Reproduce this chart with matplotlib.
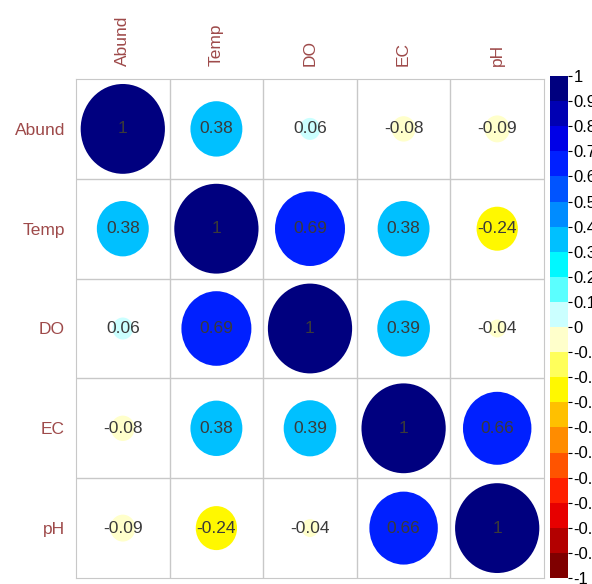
import numpy as np
import matplotlib
matplotlib.use('Agg')
import matplotlib.pyplot as plt
from matplotlib.colors import LinearSegmentedColormap, ListedColormap, BoundaryNorm
from matplotlib.patches import Ellipse
from matplotlib.cm import ScalarMappable

plt.rcParams['font.family'] = ['Liberation Sans', 'DejaVu Sans']

# variables and correlation values
variables = ['Abund', 'Temp', 'DO', 'EC', 'pH']
abund = [1.00, 0.38, 0.06, -0.08, -0.09]
temp = [0.38, 1.00, 0.69, 0.38, -0.24]
do = [0.06, 0.69, 1.00, 0.39, -0.04]
ec = [-0.08, 0.38, 0.39, 1.00, 0.66]
ph = [-0.09, -0.24, -0.04, 0.66, 1.00]
corr = np.array([abund, temp, do, ec, ph])

# corrplot-like palette, 20 bins
anchors = ["#7F0000", "red", "#FF7F00", "yellow", "white",
           "cyan", "#007FFF", "blue", "#00007F"]
ramp = LinearSegmentedColormap.from_list('ramp', anchors)
ncol = 20
cmap = ListedColormap([ramp(i / (ncol - 1)) for i in range(ncol)])
bounds = np.linspace(-1, 1, ncol + 1)
norm = BoundaryNorm(bounds, ncol)

fig = plt.figure(figsize=(5.92, 5.84), dpi=100)
ax = fig.add_axes([76 / 592, 6 / 584, 468 / 592, 499 / 584])

n = len(variables)
lab_col = '#9E4A4A'
grid_col = '#C8C8C8'

for i in range(n):
    for j in range(n):
        r = corr[i, j]
        d = 0.9 * np.sqrt(abs(r))
        ax.add_patch(Ellipse((j + 0.5, i + 0.5), d, d, facecolor=cmap(norm(r)),
                             edgecolor='none'))
        txt = '1' if r == 1 else f'{r:.2f}'
        ax.text(j + 0.5, i + 0.5, txt, ha='center', va='center',
                fontsize=12.5, color='#3a3a3a')

for k in range(1, n):
    ax.axhline(k, color=grid_col, lw=1)
    ax.axvline(k, color=grid_col, lw=1)
for s in ax.spines.values():
    s.set_color(grid_col)

ax.set_xlim(0, n)
ax.set_ylim(n, 0)
ax.set_xticks(np.arange(n) + 0.5)
ax.set_yticks(np.arange(n) + 0.5)
ax.set_xticklabels(variables, rotation=90, color=lab_col, fontsize=12.5)
ax.set_yticklabels(variables, color=lab_col, fontsize=12.5)
ax.xaxis.tick_top()
ax.tick_params(axis='x', length=0, pad=9)
ax.tick_params(axis='y', length=0, pad=8)

# colorbar
cax = fig.add_axes([550 / 592, 6 / 584, 18 / 592, 502 / 584])
cb = fig.colorbar(ScalarMappable(norm=norm, cmap=cmap), cax=cax,
                  ticks=bounds, spacing='proportional')
cb.outline.set_visible(False)
ticklabs = []
for b in bounds:
    v = round(b, 1)
    if v == 0:
        ticklabs.append('0')
    elif v in (1, -1):
        ticklabs.append(str(int(v)))
    else:
        ticklabs.append(f'{v:g}')
cb.set_ticklabels(ticklabs)
cax.tick_params(length=3, width=0.8, labelsize=12, pad=1)

fig.savefig('out.png', dpi=100)
